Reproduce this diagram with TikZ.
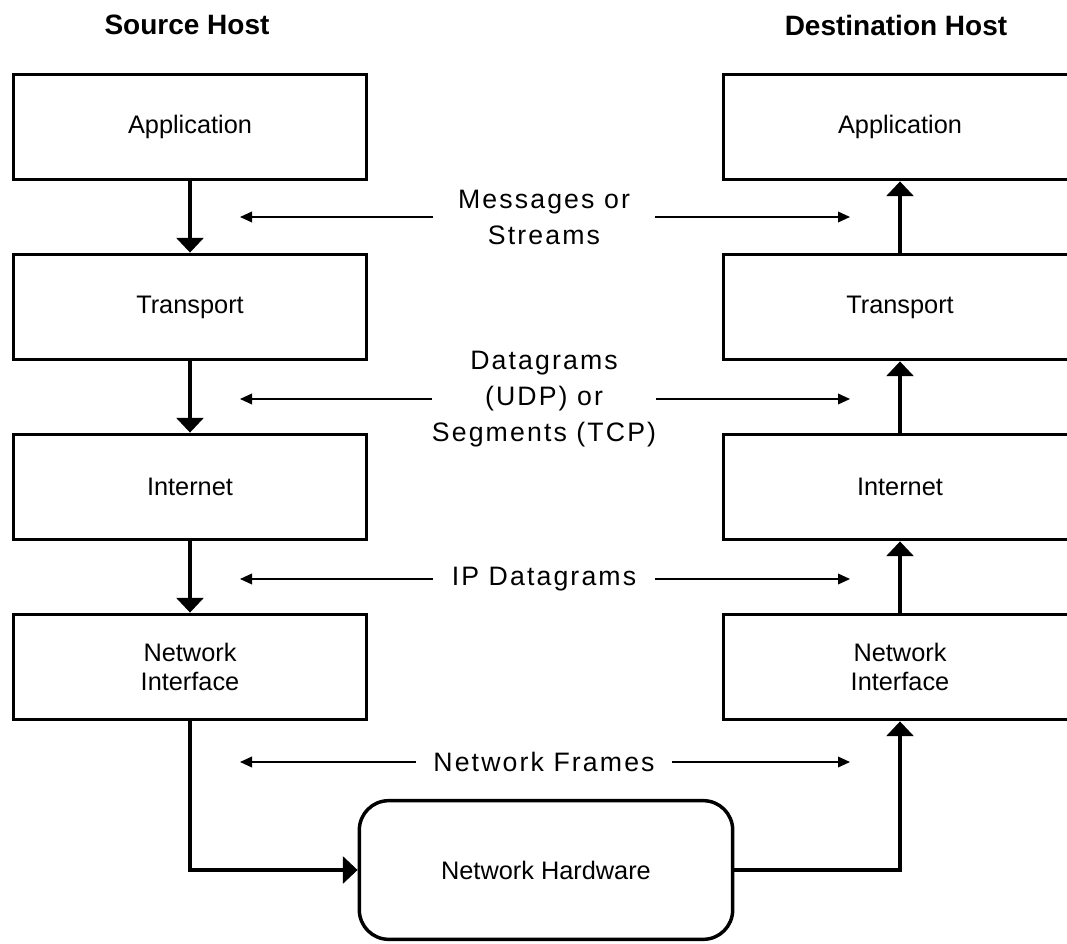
\documentclass[tikz,border=0pt]{standalone}
\usepackage{fontspec}
\setmainfont{Liberation Sans}
\usetikzlibrary{arrows.meta}
\begin{document}
\begin{tikzpicture}[x=0.75pt,y=-0.75pt,
layer/.style={draw,line width=2.6pt,minimum width=265pt,minimum height=79pt,align=center,font=\fontsize{19}{22}\selectfont},
hw/.style={layer,rounded corners=22pt,minimum width=280pt,minimum height=104pt},
lbl/.style={align=center,inner sep=0pt,minimum width=166pt,font=\addfontfeature{LetterSpace=8}\fontsize{20}{27}\selectfont},
head/.style={font=\fontsize{21}{25}\selectfont\bfseries},
pass/.style={line width=2.6pt,-{Triangle[width=20pt,length=11pt]}},
flow/.style={line width=1.1pt,-{Triangle[width=8pt,length=9pt]}}]
\useasboundingbox (0,0) rectangle (1067,944);
\node[head] (src) at (187,25) {Source Host};
\node[head] (dst) at (896,25) {Destination Host};
\node[layer] (app1) at (190,127) {Application};
\node[layer] (tra1) at (190,307) {Transport};
\node[layer] (int1) at (190,487) {Internet};
\node[layer] (nif1) at (190,667) {Network\\Interface};
\node[layer] (app2) at (900,127) {Application};
\node[layer] (tra2) at (900,307) {Transport};
\node[layer] (int2) at (900,487) {Internet};
\node[layer] (nif2) at (900,667) {Network\\Interface};
\node[hw] (hard) at (546,870) {Network Hardware};
\node[lbl] (msg) at (544,217) {Messages or\\Streams};
\node[lbl] (seg) at (544,399) {Datagrams\\(UDP) or\\Segments (TCP)};
\node[lbl] (ipd) at (544,579) {IP Datagrams};
\node[lbl,minimum width=192pt] (frm) at (544,762) {Network Frames};
\coordinate (msgL) at (240,217); \coordinate (msgR) at (850,217);
\coordinate (segL) at (240,399); \coordinate (segR) at (850,399);
\coordinate (ipdL) at (240,579); \coordinate (ipdR) at (850,579);
\coordinate (frmL) at (240,762); \coordinate (frmR) at (850,762);
\draw[pass] (app1) -- (tra1);
\draw[pass] (tra1) -- (int1);
\draw[pass] (int1) -- (nif1);
\draw[pass] (nif1.south) |- (hard.west);
\draw[pass] (hard.east) -| (nif2.south);
\draw[pass] (nif2) -- (int2);
\draw[pass] (int2) -- (tra2);
\draw[pass] (tra2) -- (app2);
\draw[flow] (msg.west) -- (msgL); \draw[flow] (msg.east) -- (msgR);
\draw[flow] (seg.west) -- (segL); \draw[flow] (seg.east) -- (segR);
\draw[flow] (ipd.west) -- (ipdL); \draw[flow] (ipd.east) -- (ipdR);
\draw[flow] (frm.west) -- (frmL); \draw[flow] (frm.east) -- (frmR);
\end{tikzpicture}
\end{document}
